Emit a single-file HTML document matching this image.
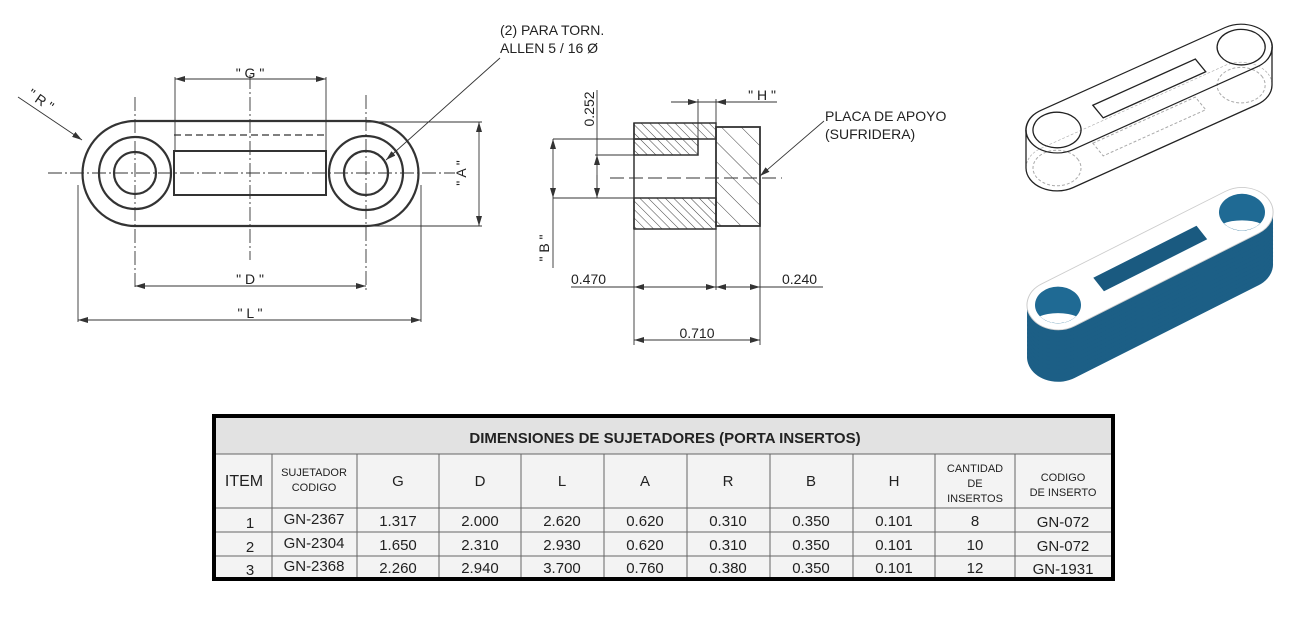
<!DOCTYPE html>
<html><head><meta charset="utf-8"><style>
html,body{margin:0;padding:0;background:#fff;}
svg{display:block;}
text{font-family:"Liberation Sans",sans-serif;}
</style></head><body>
<svg width="1304" height="622" viewBox="0 0 1304 622" xmlns="http://www.w3.org/2000/svg">
<defs>
<marker id="ar" viewBox="0 0 10 6" refX="10" refY="3" markerWidth="10" markerHeight="6" orient="auto-start-reverse" markerUnits="userSpaceOnUse"><path d="M0,0 L10,3 L0,6 z" fill="#333"/></marker>
<pattern id="h1" width="6" height="6" patternUnits="userSpaceOnUse" patternTransform="rotate(-45)"><line x1="0" y1="0" x2="0" y2="6" stroke="#444" stroke-width="1"/></pattern>
<pattern id="h2" width="14" height="14" patternUnits="userSpaceOnUse" patternTransform="rotate(-45)"><line x1="0" y1="0" x2="0" y2="14" stroke="#444" stroke-width="1"/></pattern>
<path id="st" d="M0,-31 L215.5,-31 A31,31 0 0 1 215.5,31 L0,31 A31,31 0 0 1 0,-31 Z"/>
<path id="sb" d="M0,-31 L217.5,-31 A31,31 0 0 1 217.5,31 L0,31 A31,31 0 0 1 0,-31 Z"/>
</defs>

<!-- LEFT DRAWING -->
<g stroke="#333" fill="none">
<path d="M135,121 L366,121 A52.5,52.5 0 0 1 366,226 L135,226 A52.5,52.5 0 0 1 135,121 Z" stroke-width="2.2"/>
<circle cx="135" cy="173" r="36" stroke-width="2.2"/>
<circle cx="135" cy="173" r="21" stroke-width="2.2"/>
<circle cx="366" cy="173" r="37" stroke-width="2.2"/>
<circle cx="366" cy="173" r="22" stroke-width="2.2"/>
<rect x="174" y="151" width="152" height="44" stroke-width="2"/>
<line x1="174" y1="135" x2="326" y2="135" stroke-dasharray="7,4" stroke-width="1.3"/>
<g stroke-width="0.9" stroke-dasharray="14,3,2,3">
<line x1="48" y1="173" x2="455" y2="173"/>
<line x1="250" y1="75" x2="250" y2="260"/>
<line x1="135" y1="97" x2="135" y2="290"/>
<line x1="366" y1="95" x2="366" y2="290"/>
</g>
<g stroke-width="0.9">
<line x1="175" y1="77" x2="175" y2="150"/><line x1="326" y1="77" x2="326" y2="150"/>
<line x1="175" y1="79" x2="326" y2="79" marker-start="url(#ar)" marker-end="url(#ar)"/>
<line x1="135" y1="286" x2="366" y2="286" marker-start="url(#ar)" marker-end="url(#ar)"/>
<line x1="78" y1="185" x2="78" y2="322"/><line x1="421" y1="185" x2="421" y2="322"/>
<line x1="78" y1="320" x2="421" y2="320" marker-start="url(#ar)" marker-end="url(#ar)"/>
<line x1="366" y1="122" x2="482" y2="122"/><line x1="366" y1="226" x2="482" y2="226"/>
<line x1="479" y1="122" x2="479" y2="226" marker-start="url(#ar)" marker-end="url(#ar)"/>
<line x1="18" y1="97" x2="82" y2="140" marker-end="url(#ar)"/>
<line x1="500" y1="58" x2="386" y2="160" marker-end="url(#ar)"/>
</g>
</g>
<g fill="#222" font-size="14">
<text x="250" y="78" text-anchor="middle">" G "</text>
<text x="250" y="284" text-anchor="middle">" D "</text>
<text x="250" y="318" text-anchor="middle">" L "</text>
<text x="0" y="0" text-anchor="middle" transform="translate(466,173) rotate(-90)">" A "</text>
<text x="0" y="0" text-anchor="middle" transform="translate(38,104) rotate(35)">" R "</text>
<text x="500" y="35">(2) PARA TORN.</text>
<text x="500" y="53">ALLEN 5 / 16 Ø</text>
</g>

<!-- MIDDLE DRAWING -->
<g stroke="#333">
<rect x="634" y="123" width="82" height="16" fill="url(#h1)" stroke-width="1.5"/>
<rect x="634" y="139" width="64" height="16" fill="url(#h1)" stroke-width="1.5"/>
<rect x="634" y="198" width="82" height="31" fill="url(#h1)" stroke-width="1.5"/>
<line x1="634" y1="123" x2="634" y2="229" stroke-width="1.5"/>
<rect x="716" y="127" width="44" height="99" fill="url(#h2)" stroke-width="1.8"/>
<g fill="none" stroke-width="0.9">
<line x1="610" y1="178" x2="782" y2="178" stroke-dasharray="14,5"/>
<line x1="597" y1="90" x2="597" y2="198"/>
<line x1="597" y1="160" x2="597" y2="155" marker-end="url(#ar)"/>
<line x1="597" y1="175" x2="597" y2="198" marker-end="url(#ar)"/>
<line x1="595" y1="155" x2="634" y2="155"/>
<line x1="553" y1="139" x2="634" y2="139"/><line x1="553" y1="198" x2="634" y2="198"/>
<line x1="553" y1="139" x2="553" y2="198" marker-start="url(#ar)" marker-end="url(#ar)"/>
<line x1="553" y1="198" x2="553" y2="268"/>
<line x1="671" y1="102" x2="777" y2="102"/>
<line x1="698" y1="99" x2="698" y2="139"/><line x1="716" y1="99" x2="716" y2="127"/>
<line x1="684" y1="102" x2="698" y2="102" marker-end="url(#ar)"/>
<line x1="730" y1="102" x2="716" y2="102" marker-end="url(#ar)"/>
<line x1="824" y1="121" x2="760" y2="176" marker-end="url(#ar)"/>
<line x1="634" y1="229" x2="634" y2="345"/><line x1="716" y1="229" x2="716" y2="290"/><line x1="760" y1="226" x2="760" y2="345"/>
<line x1="571" y1="287" x2="823" y2="287"/>
<line x1="634" y1="287" x2="716" y2="287" marker-start="url(#ar)" marker-end="url(#ar)"/>
<line x1="716" y1="287" x2="760" y2="287" marker-start="url(#ar)" marker-end="url(#ar)"/>
<line x1="634" y1="340" x2="760" y2="340" marker-start="url(#ar)" marker-end="url(#ar)"/>
</g>
</g>
<g fill="#222" font-size="14">
<text x="0" y="0" text-anchor="middle" transform="translate(594,109) rotate(-90)">0.252</text>
<text x="0" y="0" text-anchor="middle" transform="translate(549,248) rotate(-90)">" B "</text>
<text x="762" y="100" text-anchor="middle">" H "</text>
<text x="825" y="121">PLACA DE APOYO</text>
<text x="825" y="139">(SUFRIDERA)</text>
<text x="571" y="284">0.470</text>
<text x="782" y="284">0.240</text>
<text x="697" y="338" text-anchor="middle">0.710</text>
</g>

<!-- 3D wireframe -->
<g transform="translate(1057,168) scale(1,0.74) rotate(-31.3)" fill="none" stroke="#aaa" stroke-dasharray="3,2">
<use href="#st" stroke-width="0.8" vector-effect="non-scaling-stroke"/>
<circle cx="0" cy="0" r="24" vector-effect="non-scaling-stroke"/>
<circle cx="215.5" cy="0" r="24" vector-effect="non-scaling-stroke"/>
<rect x="48" y="-10" width="120" height="20" vector-effect="non-scaling-stroke"/>
</g>
<g stroke="#222" stroke-width="1.3" fill="none">
<line x1="1026" y1="130" x2="1026" y2="168"/>
<line x1="1272" y1="47" x2="1272" y2="85"/>
<path d="M1026,168 A31,23 0 0 0 1073,187.6 L1257,104.6 A31,23 0 0 0 1272,85"/>
</g>
<g transform="translate(1057,130) scale(1,0.74) rotate(-31.3)" fill="none" stroke="#222">
<use href="#st" stroke-width="1.5" vector-effect="non-scaling-stroke"/>
<circle cx="0" cy="0" r="24" stroke-width="1.3" vector-effect="non-scaling-stroke"/>
<circle cx="215.5" cy="0" r="24" stroke-width="1.3" vector-effect="non-scaling-stroke"/>
<rect x="48" y="-10" width="120" height="20" stroke-width="1.3" vector-effect="non-scaling-stroke"/>
</g>

<!-- 3D blue -->
<g fill="#1c5f86">
<use href="#sb" transform="translate(1058,357) scale(1,0.8) rotate(-32.2)"/>
<use href="#sb" transform="translate(1058,353) scale(1,0.8) rotate(-32.2)"/>
<use href="#sb" transform="translate(1058,349) scale(1,0.8) rotate(-32.2)"/>
<use href="#sb" transform="translate(1058,345) scale(1,0.8) rotate(-32.2)"/>
<use href="#sb" transform="translate(1058,341) scale(1,0.8) rotate(-32.2)"/>
<use href="#sb" transform="translate(1058,337) scale(1,0.8) rotate(-32.2)"/>
<use href="#sb" transform="translate(1058,333) scale(1,0.8) rotate(-32.2)"/>
<use href="#sb" transform="translate(1058,329) scale(1,0.8) rotate(-32.2)"/>
<use href="#sb" transform="translate(1058,325) scale(1,0.8) rotate(-32.2)"/>
<use href="#sb" transform="translate(1058,321) scale(1,0.8) rotate(-32.2)"/>
<use href="#sb" transform="translate(1058,317) scale(1,0.8) rotate(-32.2)"/>
<use href="#sb" transform="translate(1058,313) scale(1,0.8) rotate(-32.2)"/>
<use href="#sb" transform="translate(1058,309) scale(1,0.8) rotate(-32.2)"/>
</g>
<g transform="translate(1058,305) scale(1,0.8) rotate(-32.2)">
<use href="#sb" fill="#fff" stroke="#ccc" stroke-width="1" vector-effect="non-scaling-stroke"/>
</g>
<g transform="translate(1058,305) scale(1,0.8)">
<circle cx="0" cy="0" r="23" fill="#1f6a94"/>
<circle cx="184" cy="-116" r="23" fill="#1f6a94"/>
<path d="M-18,14 A23,23 0 0 0 18,14 A22,9 0 0 0 -18,14 Z" fill="#fff"/>
<path d="M166,-102 A23,23 0 0 0 202,-102 A22,9 0 0 0 166,-102 Z" fill="#fff"/>
</g>
<g transform="translate(1058,305) scale(1,0.8) rotate(-32.2)">
<rect x="48" y="-10" width="122" height="20" fill="#1a5a80"/>
</g>

<!-- TABLE -->
<rect x="214" y="416" width="899" height="163" fill="#f3f3f3" stroke="#000" stroke-width="4"/>
<rect x="216" y="418" width="895" height="36" fill="#e2e2e2"/>
<g stroke="#666" stroke-width="1" fill="none">
<line x1="216" y1="454" x2="1111" y2="454"/>
<line x1="216" y1="508" x2="1111" y2="508"/>
<line x1="216" y1="532" x2="1111" y2="532"/>
<line x1="216" y1="556" x2="1111" y2="556"/>
<line x1="272" y1="454" x2="272" y2="577"/><line x1="357" y1="454" x2="357" y2="577"/>
<line x1="439" y1="454" x2="439" y2="577"/><line x1="521" y1="454" x2="521" y2="577"/>
<line x1="604" y1="454" x2="604" y2="577"/><line x1="687" y1="454" x2="687" y2="577"/>
<line x1="770" y1="454" x2="770" y2="577"/><line x1="853" y1="454" x2="853" y2="577"/>
<line x1="935" y1="454" x2="935" y2="577"/><line x1="1015" y1="454" x2="1015" y2="577"/>
</g>
<g fill="#222" text-anchor="middle" font-size="15">
<text x="665" y="443" font-weight="bold" font-size="15">DIMENSIONES DE SUJETADORES (PORTA INSERTOS)</text>
<text x="244" y="486" font-size="16">ITEM</text>
<text x="314" y="476" font-size="11">SUJETADOR</text><text x="314" y="491" font-size="11">CODIGO</text>
<text x="398" y="486">G</text><text x="480" y="486">D</text><text x="562" y="486">L</text>
<text x="645" y="486">A</text><text x="728" y="486">R</text><text x="811" y="486">B</text><text x="894" y="486">H</text>
<text x="975" y="472" font-size="11">CANTIDAD</text><text x="975" y="487" font-size="11">DE</text><text x="975" y="502" font-size="11">INSERTOS</text>
<text x="1063" y="481" font-size="11">CODIGO</text><text x="1063" y="496" font-size="11">DE INSERTO</text>
<text x="250" y="528">1</text><text x="314" y="524">GN-2367</text><text x="398" y="526">1.317</text><text x="480" y="526">2.000</text><text x="562" y="526">2.620</text><text x="645" y="526">0.620</text><text x="728" y="526">0.310</text><text x="811" y="526">0.350</text><text x="894" y="526">0.101</text><text x="975" y="526">8</text><text x="1063" y="527">GN-072</text>
<text x="250" y="552">2</text><text x="314" y="548">GN-2304</text><text x="398" y="550">1.650</text><text x="480" y="550">2.310</text><text x="562" y="550">2.930</text><text x="645" y="550">0.620</text><text x="728" y="550">0.310</text><text x="811" y="550">0.350</text><text x="894" y="550">0.101</text><text x="975" y="550">10</text><text x="1063" y="551">GN-072</text>
<text x="250" y="575">3</text><text x="314" y="571">GN-2368</text><text x="398" y="573">2.260</text><text x="480" y="573">2.940</text><text x="562" y="573">3.700</text><text x="645" y="573">0.760</text><text x="728" y="573">0.380</text><text x="811" y="573">0.350</text><text x="894" y="573">0.101</text><text x="975" y="573">12</text><text x="1063" y="574">GN-1931</text>
</g>
</svg>
</body></html>
